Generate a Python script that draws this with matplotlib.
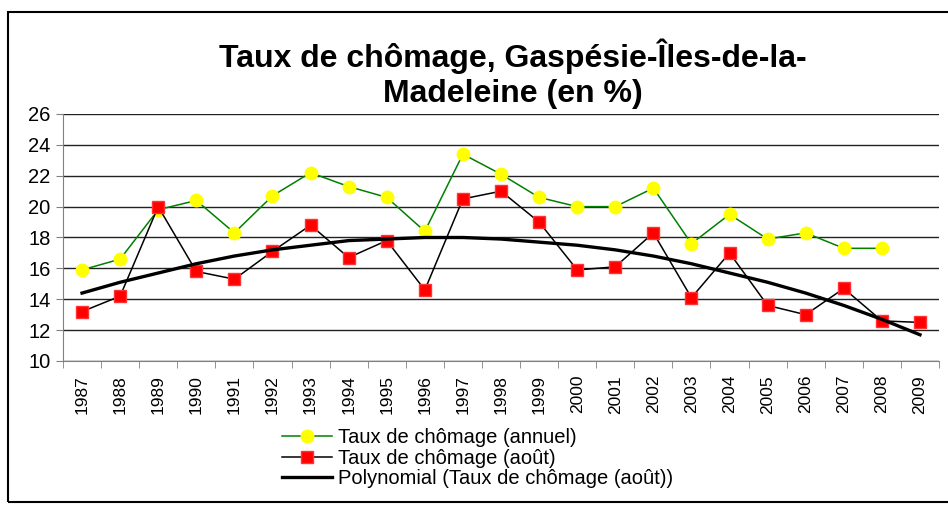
import matplotlib
matplotlib.use('Agg')
import matplotlib.pyplot as plt
from matplotlib.patches import Rectangle

# data
years = [str(y) for y in range(1987, 2010)]
annuel = [15.9, 16.6, 19.8, 20.4, 18.3, 20.7, 22.2, 21.3, 20.6, 18.4, 23.4, 22.1,
          20.6, 20.0, 20.0, 21.2, 17.6, 19.5, 17.9, 18.3, 17.3, 17.3, None]
aout = [13.2, 14.2, 20.0, 15.8, 15.3, 17.1, 18.8, 16.7, 17.8, 14.6, 20.5, 21.0,
        19.0, 15.9, 16.1, 18.3, 14.1, 17.0, 13.6, 13.0, 14.7, 12.6, 12.5]
tendance = [14.4, 15.1, 15.7, 16.3, 16.8, 17.2, 17.5, 17.8, 17.9, 18.0, 18.0, 17.9,
            17.7, 17.5, 17.2, 16.8, 16.3, 15.7, 15.1, 14.4, 13.6, 12.7, 11.7]

plt.rcParams['font.family'] = ['Liberation Sans', 'DejaVu Sans']

fig = plt.figure(figsize=(9.48, 5.08), dpi=100)
ax = fig.add_axes([63 / 948, 1 - 361 / 508, (939 - 63) / 948, (361 - 114) / 508])

x = list(range(len(years)))
xa = [i for i, v in zip(x, annuel) if v is not None]
va = [v for v in annuel if v is not None]

ax.plot(xa, va, color='#008000', lw=1.1, marker='o', ms=9,
        markerfacecolor='#ffff00', markeredgecolor='#ffff00',
        label='Taux de chômage (annuel)', zorder=3)
ax.plot(x, aout, color='black', lw=1.1, marker='s', ms=8.5,
        markerfacecolor='#ff0000', markeredgecolor='#ff3333',
        label='Taux de chômage (août)', zorder=4)
ax.plot(x, tendance, color='black', lw=2.4,
        label='Polynomial (Taux de chômage (août))', zorder=5)

ax.set_xlim(-0.5, len(years) - 0.5)
ax.set_ylim(10, 26)
ax.set_yticks(range(10, 27, 2))
ax.tick_params(axis='y', labelsize=14.5, length=5, color='#808080', direction='out', pad=4)
ax.set_xticks(x)
ax.set_xticklabels(years, rotation=90, fontsize=12.5)
ax.set_xticks([i - 0.5 for i in range(len(years) + 1)], minor=True)
ax.tick_params(axis='x', which='major', length=0, pad=10)
ax.tick_params(axis='x', which='minor', length=5, color='#808080', direction='out')
ax.grid(axis='y', color='#222222', lw=1)
ax.set_axisbelow(True)
for s in ['top', 'right']:
    ax.spines[s].set_visible(False)
for s in ['left', 'bottom']:
    ax.spines[s].set_color('#808080')

fig.text(513 / 948, 1 - 74 / 508, 'Taux de chômage, Gaspésie-Îles-de-la-\nMadeleine (en %)',
         ha='center', va='center', fontsize=23, fontweight='bold', linespacing=1.2)

fig.legend(loc='upper left', bbox_to_anchor=(282 / 948, 1 - 428 / 508), frameon=False,
           fontsize=14.5, handlelength=2.5, handletextpad=0.3, labelspacing=0.08,
           borderpad=0, borderaxespad=0)

fig.patches.append(Rectangle((8 / 948, 1 - 502 / 508), 1, 490 / 508, transform=fig.transFigure,
                             fill=False, edgecolor='black', lw=1.5))

fig.savefig('out.png', dpi=100)
